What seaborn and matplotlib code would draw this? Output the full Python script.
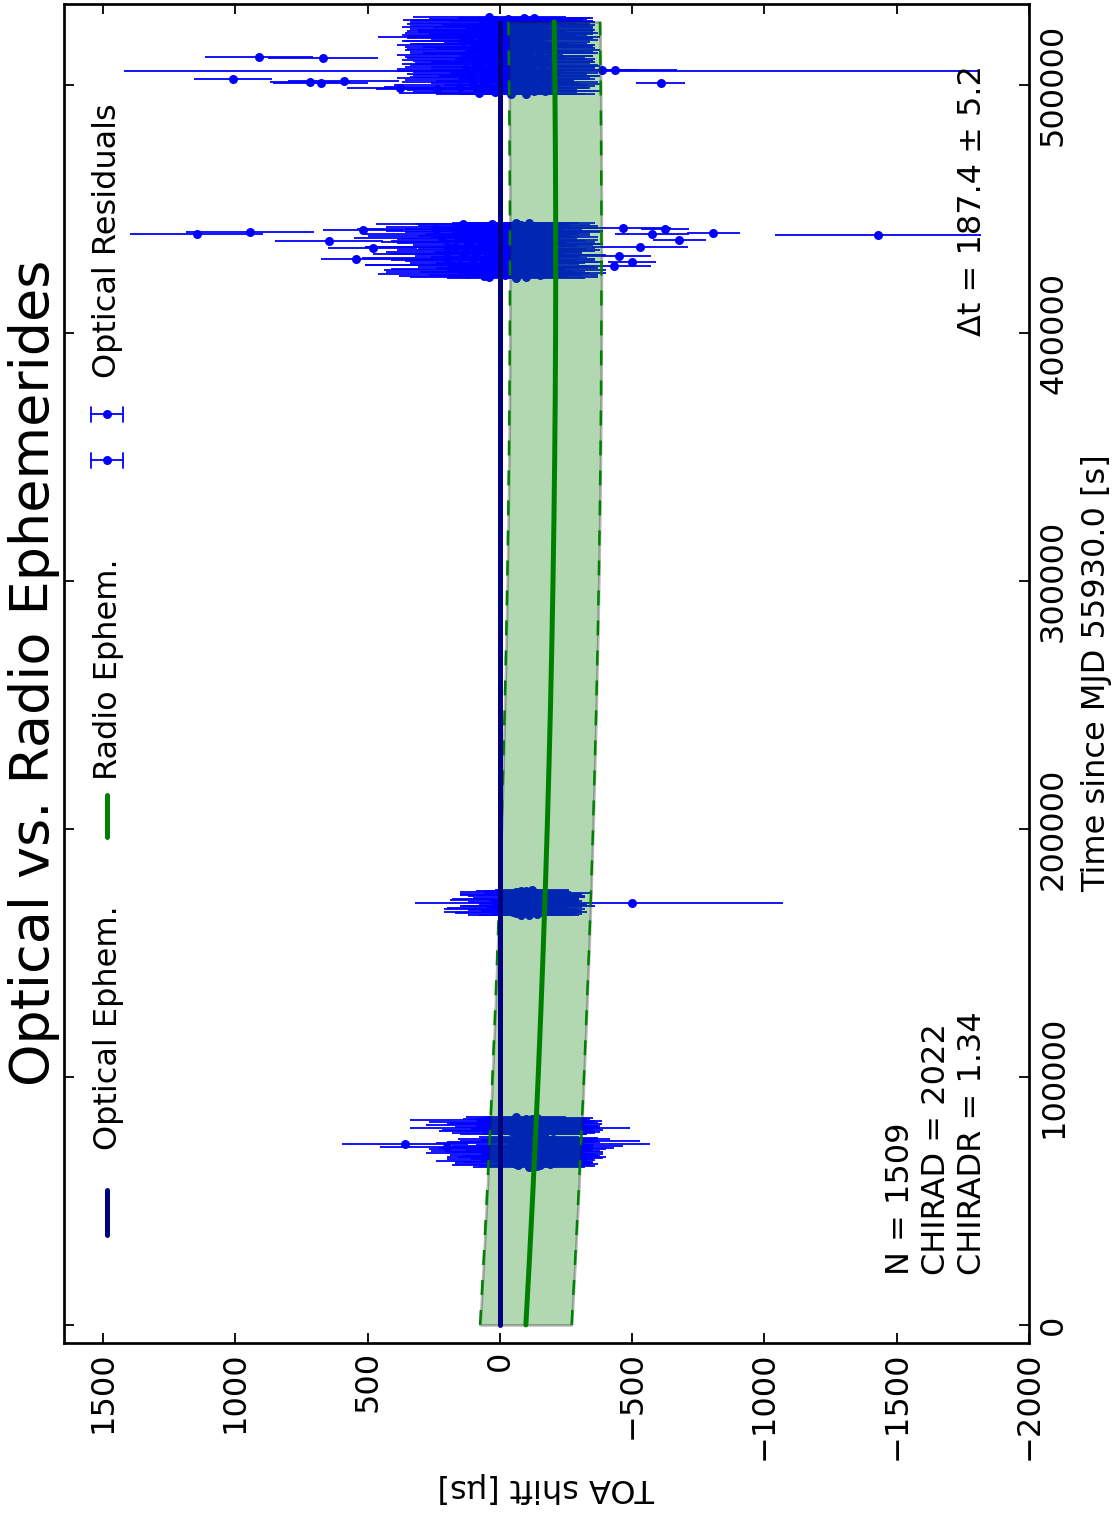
import matplotlib
matplotlib.use("Agg")
import matplotlib.pyplot as plt
import seaborn as sns
import pandas as pd
from matplotlib.lines import Line2D

# ---------------------------------------------------------------
# Optical timing residuals (time since MJD 55930.0 [s], shift [us], 1-sigma [us])
# ---------------------------------------------------------------
# night 1
a_time = [63800, 64300, 64800, 65300, 65800, 66300, 66800, 67300, 67800, 68300,
          68800, 69300, 69800, 70300, 70800, 71300, 71800, 72300, 72900, 73100,
          73600, 74100, 74600, 75100, 75600, 76800, 77300, 77800, 78300, 78800,
          79300, 79600, 80100, 80600, 81100, 81600, 82100, 82700, 83200, 83700,
          64050, 64550, 65050, 65550, 66050, 66550, 67050, 67550, 68050, 68550,
          69050, 69550, 70050, 70550, 71050, 71550, 72050, 72550, 73350, 73850,
          74350, 74850, 75350, 77050, 77550, 78050, 78550, 79050, 79850, 80350,
          80850, 81350, 81850, 82350, 82950, 83450]
a_shift = [-110, -150, -60, -180, -90, -130, -40, -200, -120, -70,
           -160, -20, -140, 20, -190, -100, 200, -250, 359, -300,
           -80, -300, -150, -200, -110, -130, -60, -170, -100, -30,
           -210, -75, -140, 10, -190, -90, -150, 40, -120, -60,
           -140, -70, -190, -100, -30, -170, -120, -60, -210, -90,
           -150, -50, -180, -110, -20, -160, -80, -130, -40, -200,
           -100, -70, -170, -90, -150, -40, -200, -120, -80, -180,
           -60, -130, -10, -170, -100, -140]
a_err = [210, 190, 230, 170, 260, 200, 240, 190, 280, 210,
         230, 300, 250, 240, 210, 330, 253, 216, 238, 267,
         280, 229, 220, 216, 190, 200, 240, 210, 260, 250,
         170, 415, 230, 270, 195, 280, 235, 300, 210, 190,
         220, 250, 180, 240, 270, 190, 230, 260, 170, 280,
         210, 250, 200, 240, 290, 190, 260, 220, 280, 180,
         250, 230, 200, 240, 210, 270, 190, 230, 250, 200,
         260, 220, 280, 190, 240, 210]

# night 2
b_time = [165200, 165800, 166400, 167000, 167600, 168200, 168800, 169400, 170000,
          170600, 171200, 171800, 172400, 173000, 173600, 174200, 174800, 175400,
          165500, 166100, 166700, 167300, 167900, 168500, 169100, 169700, 170900,
          171500, 172100, 172700, 173300, 173900, 174500, 175100]
b_shift = [-80, -140, -50, -120, -170, -30, -110, -150, 20,
           -90, -130, -60, -160, -100, -40, -140, -80, -120,
           -110, -60, -160, -90, -40, -130, -70, -120, -150,
           -50, -100, -170, -80, -130, -60, -100]
b_err = [200, 170, 260, 190, 150, 230, 250, 180, 300,
         210, 170, 240, 160, 220, 190, 200, 170, 140,
         190, 230, 170, 210, 250, 180, 220, 200, 160,
         240, 200, 150, 230, 180, 210, 160]

# night 3
c_time = [422300, 422800, 423300, 423800, 424300, 424800, 425300, 425800, 426300, 426800,
          427300, 427800, 428300, 428800, 429300, 429800, 430300, 430800, 431300, 431800,
          432300, 432800, 433300, 433800, 434300, 434800, 435300, 435800, 436300, 436800,
          437300, 437800, 438300, 438800, 439300, 439800, 440300, 440800, 441300, 441800,
          442300, 442800, 443300, 443800, 444300,
          422550, 423050, 423550, 424050, 424550, 425050, 425550, 426050, 426550, 427050,
          427550, 428050, 428550, 429050, 429550, 430050, 430550, 431050, 431550, 432050,
          432550, 433050, 433550, 434050, 434550, 435050, 435550, 436050, 436550, 437050,
          437550, 438050, 438550, 439050, 439550, 440050, 440550, 441050, 441550, 442050,
          442550, 443050, 443550, 444050, 444550]
c_shift = [-60, 40, -150, 120, -90, 10, -200, 80, -30, -120,
           150, -70, 30, -180, 60, -110, 200, -20, -160, 90,
           -50, 130, -140, 0, -90, 170, -40, -190, 70, -100,
           110, -60, 220, -130, 20, 160, -80, 50, -170, 240,
           -20, 100, -120, 30, -60,
           -100, 60, -20, -170, 90, -60, 130, -130, 10, -80,
           180, -40, -150, 50, -110, 100, -70, 20, -190, 140,
           -30, -120, 70, -60, 200, -100, 30, -160, 120, -50,
           -140, 80, -20, 160, -90, -10, -150, 110, -40, 60,
           -130, 20, -80, 140, -110]
c_err = [260, 300, 220, 340, 250, 290, 200, 330, 270, 240,
         360, 230, 310, 210, 350, 250, 320, 280, 220, 330,
         260, 300, 240, 310, 270, 340, 250, 200, 320, 260,
         300, 230, 330, 240, 290, 350, 260, 310, 220, 300,
         280, 330, 250, 290, 240,
         270, 320, 290, 230, 340, 260, 310, 240, 300, 250,
         330, 280, 220, 310, 250, 330, 260, 300, 210, 340,
         280, 240, 320, 270, 310, 250, 300, 220, 330, 270,
         230, 310, 280, 340, 250, 290, 230, 320, 270, 300,
         240, 290, 260, 330, 250]

# night 4
d_time = [496300, 496900, 497500, 498100, 498700, 499300, 499900, 500500, 501100, 501700,
          502300, 502900, 503500, 504100, 504700, 505300, 505900, 506500, 507100, 507700,
          508300, 508900, 509500, 510100, 510700, 511300, 511900, 512500, 513100, 513700,
          514300, 514900, 515500, 516100, 516700, 517300, 517900, 518500, 519100, 519700,
          520300, 520900, 521500, 522100, 522700, 523300, 523900, 524500, 525100, 525700,
          526300, 526900, 527500,
          496600, 497200, 497800, 498400, 499000, 499600, 500200, 500800, 501400, 502000,
          502600, 503200, 503800, 504400, 505000, 505600, 506200, 506800, 507400, 508000,
          508600, 509200, 509800, 510400, 511000, 511600, 512200, 512800, 513400, 514000,
          514600, 515200, 515800, 516400, 517000, 517600, 518200, 518800, 519400, 520000,
          520600, 521200, 521800, 522400, 523000, 523600, 524200, 524800, 525400, 526000,
          526600, 527200]
d_shift = [-40, 80, -130, 30, -90, 150, -60, -180, 60, -20,
           -140, 110, -70, 0, -160, 40, -100, 130, -50, -200,
           70, -10, -120, 90, -80, 20, -150, 50, -30, -110,
           100, -60, 10, -170, 60, -90, 140, -40, -130, 30,
           -70, 120, -20, -150, 80, -50, 0, -110, 60, -80,
           20, -130, 40,
           -100, 20, -170, 70, -60, -130, 100, -20, -150, 40,
           -90, 0, -180, 60, -70, 120, -40, -120, 30, -160,
           90, -50, -10, -140, 50, -100, 130, -80, 10, -190,
           70, -30, -120, 40, -60, 110, -150, 0, -90, 80,
           -40, -170, 50, -20, -110, 100, -70, 30, -140, 60,
           -30, -90]
d_err = [280, 300, 230, 320, 250, 290, 270, 200, 310, 260,
         220, 280, 300, 330, 210, 290, 240, 260, 310, 180,
         270, 330, 230, 280, 250, 340, 200, 290, 320, 240,
         260, 300, 350, 190, 270, 250, 230, 300, 220, 320,
         260, 240, 330, 210, 260, 300, 340, 230, 280, 270,
         310, 220, 290,
         260, 310, 210, 290, 270, 230, 300, 280, 220, 320,
         250, 340, 200, 290, 260, 270, 300, 240, 330, 210,
         280, 310, 340, 220, 300, 250, 260, 290, 330, 190,
         280, 320, 230, 300, 270, 250, 220, 350, 260, 290,
         310, 200, 300, 330, 240, 270, 290, 320, 220, 280,
         300, 250]

# poorly constrained TOAs
o_time = [170200,
          439800, 440600, 441500, 437100, 434300, 429800, 439500, 442000,
          440300, 437500, 440000, 442400, 434600, 431000, 428500, 427000,
          511200, 510800, 505500, 502500, 501100, 500800, 501600, 498800,
          498600, 506100, 505900, 501000, 526200, 519300, 516100]
o_shift = [-500,
           1146, 945, 518, 646, 481, 545, -1429, -624,
           -806, -678, -574, -466, -529, -450, -500, -430,
           911, 670, -197, 1009, 718, 677, 590, 378,
           238, -384, -435, -608, 26, 40, 19]
o_err = [570,
         252, 243, 151, 204, 169, 131, 389, 91,
         100, 100, 140, 180, 181, 120, 90, 140,
         204, 208, 1617, 147, 150, 180, 210, 200,
         230, 134, 234, 93, 340, 420, 370]

# ---------------------------------------------------------------
# Ephemeris predictions
# ---------------------------------------------------------------
model_time = [0, 25000, 50000, 75000, 100000, 125000, 150000, 175000, 200000,
              225000, 250000, 275000, 300000, 325000, 350000, 375000, 400000,
              425000, 450000, 475000, 500000, 525500]
optical_shift = [0.0] * len(model_time)
radio_shift = [-98.0, -110.8, -122.8, -134.0, -144.5, -154.2, -163.1, -171.3, -178.7,
               -185.3, -191.2, -196.3, -200.6, -204.2, -207.0, -209.1, -210.3,
               -210.8, -210.6, -209.5, -207.8, -205.2]
radio_sigma = 173.0

n_toas = 1509
chi_rad = 2022
chi_radr = 1.34
delta_t, delta_t_err = 187.4, 5.2

# ---------------------------------------------------------------
sns.set_theme(style="ticks")
plt.rcParams["font.family"] = ["DejaVu Sans"]
plt.rcParams.update({"text.color": "black", "axes.labelcolor": "black",
                     "xtick.color": "black", "ytick.color": "black",
                     "axes.unicode_minus": True})

W, H, DPI = 1116, 1513, 72
fig = plt.figure(figsize=(W / DPI, H / DPI), dpi=DPI)
fig.patch.set_facecolor("white")


def fx(px):
    return px / W


def fy(py):
    return 1 - py / H


ax = fig.add_axes([fx(64), fy(1343), fx(1029) - fx(64), fy(4) - fy(1343)])
ax.set_facecolor("white")

err_style = dict(fmt="o", color="blue", ms=9, mew=0, elinewidth=1.8,
                 capsize=7.5, capthick=1.8, zorder=2)
for t, s, e in [(a_time, a_shift, a_err), (b_time, b_shift, b_err),
                (c_time, c_shift, c_err), (d_time, d_shift, d_err),
                (o_time, o_shift, o_err)]:
    ax.errorbar(s, t, xerr=e, **err_style)

model = pd.DataFrame({"time": model_time, "optical": optical_shift,
                      "radio": radio_shift})
model["lo"] = model["radio"] - radio_sigma
model["hi"] = model["radio"] + radio_sigma

ax.fill_betweenx(model["time"], model["lo"], model["hi"], facecolor="green",
                 edgecolor="k", alpha=0.3, lw=2.7, zorder=3)
for col in ("lo", "hi"):
    sns.lineplot(data=model, x=col, y="time", orient="y", sort=False, estimator=None,
                 color="green", lw=2.5, ls=(0, (6, 6)), ax=ax, zorder=4, legend=False)
sns.lineplot(data=model, x="optical", y="time", orient="y", sort=False, estimator=None,
             color="navy", lw=5, ax=ax, zorder=5, legend=False)
sns.lineplot(data=model, x="radio", y="time", orient="y", sort=False, estimator=None,
             color="green", lw=5, ax=ax, zorder=6, legend=False)

ax.set_xlim(1648, -2000)
ax.set_ylim(-7300, 532700)
ax.set_xticks([1500, 1000, 500, 0, -500, -1000, -1500, -2000])
ax.set_yticks([0, 100000, 200000, 300000, 400000, 500000])
ax.ticklabel_format(style="plain", useOffset=False)
ax.tick_params(direction="in", length=10, width=1.8, top=True, bottom=True,
               left=True, right=True, labelleft=False, labelright=True,
               labelsize=32, colors="black")
ax.tick_params(axis="x", labelrotation=90, pad=8)
ax.tick_params(axis="y", labelrotation=90, pad=9)
for tick in ax.yaxis.get_major_ticks():
    tick.label2.set_verticalalignment("center")
for sp in ax.spines.values():
    sp.set_linewidth(2.7)
    sp.set_color("black")
    sp.set_visible(True)

ax.yaxis.set_label_position("right")
ax.set_ylabel("Time since MJD 55930.0 [s]", fontsize=32, rotation=90, labelpad=12)
ax.set_xlabel("TOA shift [μs]", fontsize=32, rotation=180, labelpad=12)

fig.text(fx(34), fy(673), "Optical vs. Radio Ephemerides", rotation=90,
         fontsize=54, ha="center", va="center")

fig.text(fx(988), fy(1275), f"N = {n_toas}\nCHIRAD = {chi_rad}\nCHIRADR = {chi_radr}",
         rotation=90, ha="right", va="bottom", multialignment="left", fontsize=32)
fig.text(fx(988), fy(65), f"Δt = {delta_t} ± {delta_t_err}", rotation=90,
         ha="right", va="top", fontsize=32)

# legend, laid out along the left edge
lx = 107
fig.add_artist(Line2D([fx(lx), fx(lx)], [fy(1235), fy(1190)], color="navy", lw=5))
fig.text(fx(lx + 1), fy(1150), "Optical Ephem.", rotation=90, ha="center", va="bottom", fontsize=32)
fig.add_artist(Line2D([fx(lx), fx(lx)], [fy(837), fy(795)], color="green", lw=5))
fig.text(fx(lx + 1), fy(780), "Radio Ephem.", rotation=90, ha="center", va="bottom", fontsize=32)
for yy in (460, 414):
    fig.add_artist(Line2D([fx(91), fx(123)], [fy(yy), fy(yy)], color="blue", lw=1.8))
    for cx in (91, 123):
        fig.add_artist(Line2D([fx(cx), fx(cx)], [fy(yy - 7.5), fy(yy + 7.5)],
                              color="blue", lw=1.8))
    fig.add_artist(Line2D([fx(lx)], [fy(yy)], color="blue", marker="o", ms=9, mew=0))
fig.text(fx(lx + 1), fy(378), "Optical Residuals", rotation=90, ha="center", va="bottom", fontsize=32)

fig.savefig("out.png", dpi=DPI, facecolor="white")
